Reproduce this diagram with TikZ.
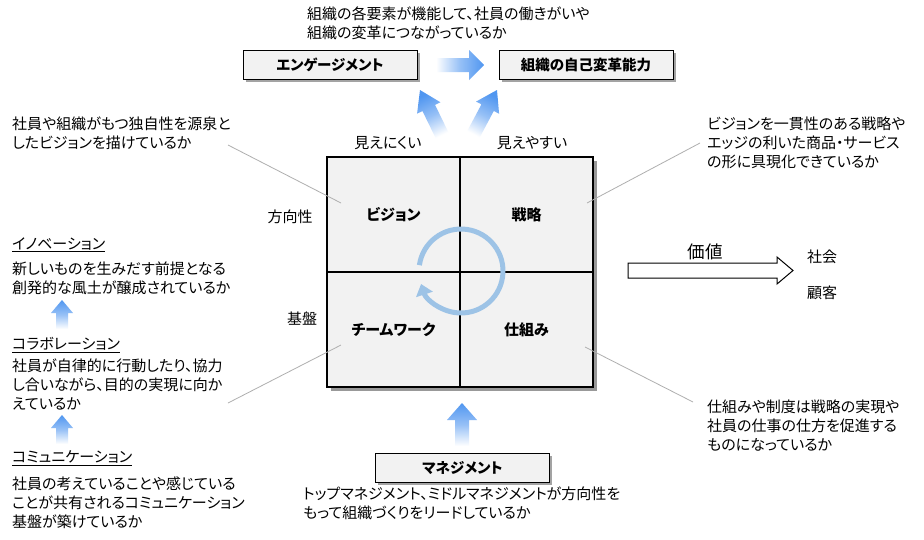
\documentclass[tikz,border=0pt]{standalone}
\usepackage{fontspec}
\setmainfont{Noto Sans CJK JP}[RawFeature=+palt]
\usetikzlibrary{shadows,arrows.meta}
\definecolor{arrowblue}{RGB}{80,150,240}
\definecolor{cycblue}{RGB}{157,195,230}
\definecolor{boxgray}{RGB}{242,242,242}
\definecolor{linegray}{RGB}{175,175,175}
% tip x, tip y, angle, length, head length, head half width, shaft half width
\newcommand\fadearrow[7]{%
  \shade[top color=arrowblue, bottom color=white, middle color=arrowblue!60!white,
         shading angle=#3, shift={(#1,#2)}, rotate=#3]
   (0,0) -- (-#6,#5) -- (-#7,#5) -- (-#7,#4) -- (#7,#4) -- (#7,#5) -- (#6,#5) -- cycle;}
\begin{document}
\begin{tikzpicture}[x=1pt,y=-1pt,
  txt/.style={inner sep=0pt, font=\fontsize{15}{19}\selectfont, align=left},
  mlt/.style={txt, anchor=north west},
  lbl/.style={inner sep=0pt, font=\fontsize{15}{19}\selectfont},
  tbox/.style={draw, fill=boxgray, line width=1pt, minimum width=174pt, minimum height=29pt,
     font=\fontsize{14.5}{16}\bfseries\selectfont,
     drop shadow={shadow xshift=2.5pt, shadow yshift=-2.5pt, fill=black!45, opacity=0.8}},
  quad/.style={draw, fill=boxgray, line width=1.3pt, minimum width=133pt, minimum height=115pt,
     inner sep=0pt, font=\fontsize{15}{16}\bfseries\selectfont},
  conn/.style={draw=linegray, line width=0.8pt},
  cyc/.style={draw=cycblue, line width=5pt}
]
\useasboundingbox (0,0) rectangle (924,539);
\fill[white] (0,0) rectangle (924,539);

% top text
\node[mlt] (toptxt) at (307,7) {組織の各要素が機能して、社員の働きがいや\\組織の変革につながっているか};

% boxes
\node[tbox] (eng) at (330,64.5) {エンゲージメント};
\node[tbox] (self) at (586,64.5) {組織の自己変革能力};
\node[tbox] (mgmt) at (462.5,468) {マネジメント};

% gradient arrows
\fadearrow{484}{65}{-90}{48}{15}{15}{7}
\fadearrow{420}{90}{26}{52}{20}{13}{7}
\fadearrow{497}{90}{-28}{52}{20}{13}{7}
\fadearrow{462}{403}{0}{43}{17}{15}{7}
\fadearrow{62}{300}{0}{29}{13}{11}{6}
\fadearrow{62}{415}{0}{29}{13}{11}{6}

% visibility labels
\node[lbl] (mienikui) at (388,143) {見えにくい};
\node[lbl] (mieyasui) at (532,143) {見えやすい};

% side labels
\node[lbl] (houkou) at (290,217) {方向性};
\node[lbl] (kiban) at (302,319) {基盤};

% grid
\fill[black!40] (330.5,160.5) rectangle (596.5,390.5);
\node[quad] (vision) at (393.5,214.5) {ビジョン};
\node[quad] (senryaku) at (526.5,214.5) {戦略};
\node[quad] (team) at (393.5,329.5) {チームワーク};
\node[quad] (shikumi) at (526.5,329.5) {仕組み};

% cycle
\draw[cyc, -{Triangle[width=17pt,length=11pt]}] ([shift={(188:42)}]461,271) arc[start angle=188, end angle=522, radius=42];

% value arrow
\draw[line width=1pt, fill=white] (628,263) -- (777,263) -- (777,257) -- (793,270.5) -- (777,284) -- (777,278) -- (628,278) -- cycle;
\node[inner sep=0pt, font=\fontsize{17.5}{20}\selectfont] (kachi) at (705,252) {価値};
\node[lbl] (shakai) at (822,257) {社会};
\node[lbl] (kokyaku) at (822,293) {顧客};

% top-left text
\node[mlt] (tl) at (12,117) {社員や組織がもつ独自性を源泉と\\したビジョンを描けているか};
% top-right text
\node[mlt] (tr) at (707,117) {ビジョンを一貫性のある戦略や\\エッジの利いた商品・サービス\\の形に具現化できているか};
% bottom-right text
\node[mlt] (br) at (707,400) {仕組みや制度は戦略の実現や\\社員の仕事の仕方を促進する\\ものになっているか};
% bottom text
\node[mlt] (bt) at (303,487) {トップマネジメント、ミドルマネジメントが方向性を\\もって組織づくりをリードしているか};

% left column
\node[txt, anchor=west] (inov) at (12,245) {\underline{イノベーション}};
\node[mlt] (inovt) at (12,262) {新しいものを生みだす前提となる\\創発的な風土が醸成されているか};
\node[txt, anchor=west] (collab) at (12,345) {\underline{コラボレーション}};
\node[mlt] (collabt) at (12,359) {社員が自律的に行動したり、協力\\し合いながら、目的の実現に向か\\えているか};
\node[txt, anchor=west] (comm) at (12,458) {\underline{コミュニケーション}};
\node[mlt] (commt) at (12,477) {社員の考えていることや感じている\\ことが共有されるコミュニケーション\\基盤が築けているか};

% connectors
\coordinate (tlA) at (228,145);
\coordinate (tlB) at (341,203);
\coordinate (trA) at (700,143);
\coordinate (trB) at (587,203);
\coordinate (blA) at (228,403);
\coordinate (blB) at (341,345);
\coordinate (brA) at (693,402);
\coordinate (brB) at (585,347);
\draw[conn] (tlA) -- (tlB);
\draw[conn] (trA) -- (trB);
\draw[conn] (blA) -- (blB);
\draw[conn] (brA) -- (brB);
\end{tikzpicture}
\end{document}
